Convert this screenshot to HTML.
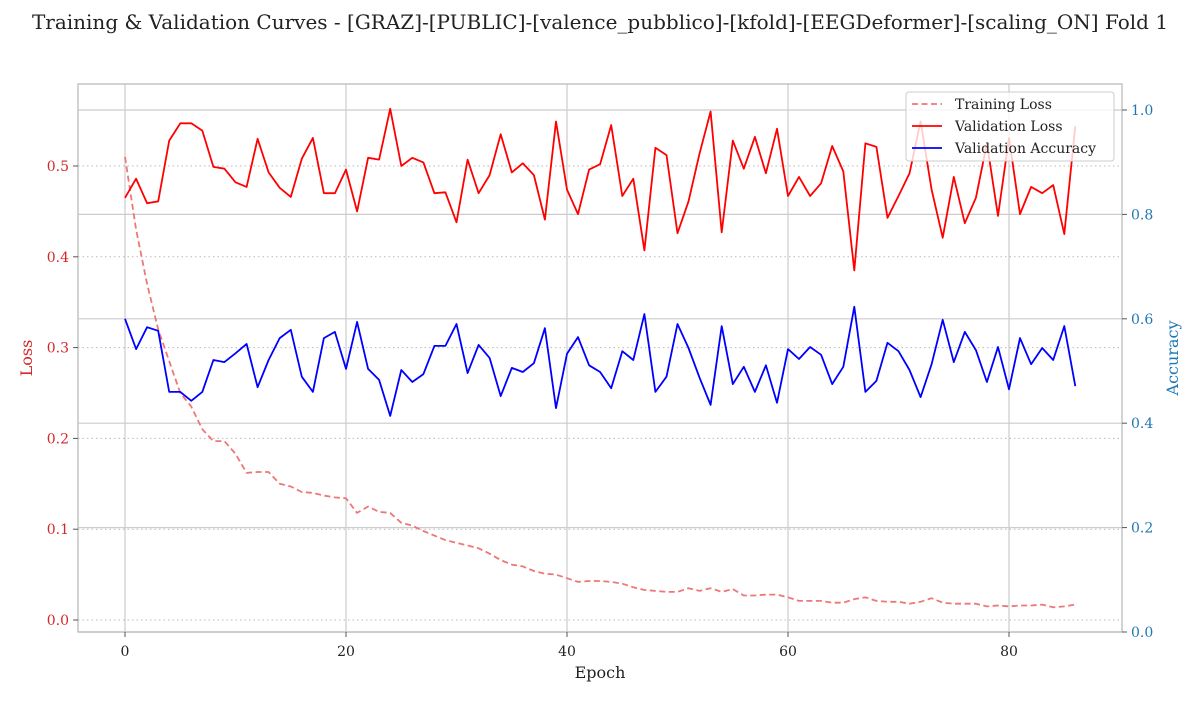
<!DOCTYPE html>
<html><head><meta charset="utf-8"><style>
body{margin:0;background:#fff;}
svg text{font-family:"DejaVu Serif","Liberation Serif",serif;}
</style></head><body>
<svg id="chart" width="1200" height="700"></svg>
<script>
const epochs = Array.from({length:87},(_,i)=>i);
const trainLoss=[0.51,0.43,0.37,0.32,0.285,0.25,0.235,0.21,0.197,0.197,0.183,0.162,0.163,0.163,0.15,0.147,0.141,0.14,0.137,0.135,0.134,0.118,0.125,0.119,0.118,0.107,0.104,0.098,0.093,0.088,0.085,0.082,0.079,0.073,0.066,0.061,0.059,0.054,0.051,0.05,0.046,0.042,0.043,0.043,0.042,0.04,0.036,0.033,0.032,0.031,0.031,0.035,0.032,0.035,0.031,0.034,0.027,0.027,0.028,0.028,0.025,0.021,0.021,0.021,0.019,0.019,0.023,0.025,0.021,0.02,0.02,0.018,0.02,0.024,0.019,0.018,0.018,0.018,0.015,0.016,0.015,0.016,0.016,0.017,0.014,0.015,0.017];
const valLoss=[0.465,0.486,0.459,0.461,0.528,0.547,0.547,0.539,0.499,0.497,0.482,0.477,0.530,0.493,0.476,0.466,0.508,0.531,0.470,0.470,0.496,0.450,0.509,0.507,0.563,0.500,0.509,0.504,0.470,0.471,0.438,0.507,0.470,0.490,0.535,0.493,0.503,0.490,0.441,0.549,0.474,0.447,0.496,0.502,0.545,0.467,0.486,0.407,0.520,0.512,0.426,0.461,0.514,0.560,0.427,0.528,0.497,0.532,0.492,0.541,0.467,0.488,0.467,0.481,0.522,0.494,0.385,0.525,0.521,0.443,0.467,0.492,0.549,0.474,0.421,0.488,0.437,0.465,0.525,0.445,0.531,0.447,0.477,0.470,0.479,0.425,0.544];
const valAcc=[0.600,0.542,0.584,0.577,0.460,0.460,0.443,0.460,0.521,0.517,0.534,0.552,0.469,0.521,0.563,0.579,0.489,0.460,0.563,0.575,0.504,0.594,0.504,0.483,0.414,0.502,0.479,0.494,0.548,0.548,0.590,0.496,0.550,0.525,0.452,0.506,0.498,0.515,0.582,0.429,0.533,0.565,0.511,0.498,0.467,0.538,0.521,0.609,0.460,0.489,0.590,0.544,0.487,0.435,0.586,0.475,0.508,0.460,0.511,0.439,0.542,0.523,0.546,0.531,0.475,0.508,0.623,0.460,0.481,0.554,0.538,0.502,0.450,0.513,0.598,0.517,0.575,0.540,0.479,0.546,0.465,0.563,0.513,0.544,0.521,0.586,0.471];
const xTicks=[0,20,40,60,80];
const lossTicks=[0.0,0.1,0.2,0.3,0.4,0.5];
const accTicks=[0.0,0.2,0.4,0.6,0.8,1.0];

const L=78,R=1122,T=84,B=632;
const x=v=>125+(v-0)*(1009-125)/80;
const yL=v=>620-v*908;
const yR=v=>632-v*522;
const svg=document.getElementById('chart');
const NS='http://www.w3.org/2000/svg';
function mk(tag,attrs,parent){const e=document.createElementNS(NS,tag);for(const k in attrs)e.setAttribute(k,attrs[k]);(parent||svg).appendChild(e);return e;}

let t=mk('text',{x:600,y:29,'text-anchor':'middle','font-size':20,fill:'#222'});t.textContent='Training & Validation Curves - [GRAZ]-[PUBLIC]-[valence_pubblico]-[kfold]-[EEGDeformer]-[scaling_ON] Fold 1';



const grid=mk('g',{});


xTicks.forEach(v=>mk('line',{x1:x(v),x2:x(v),y1:T,y2:B,stroke:'#cccccc','stroke-width':1.2},grid));
lossTicks.forEach(v=>mk('line',{x1:L,x2:R,y1:yL(v),y2:yL(v),stroke:'#bbbbbb','stroke-width':1,'stroke-dasharray':'1.5,3'},grid));
accTicks.forEach(v=>mk('line',{x1:L,x2:R,y1:yR(v),y2:yR(v),stroke:'#cccccc','stroke-width':1.2},grid));

const frame=mk('rect',{x:L,y:T,width:R-L,height:B-T,fill:'none',stroke:'#bbbbbb','stroke-width':1.3});



const ax=mk('g',{'font-size':14});


xTicks.forEach(v=>{mk('line',{x1:x(v),x2:x(v),y1:B,y2:B+5,stroke:'#555'},ax);const e=mk('text',{x:x(v),y:B+24,'text-anchor':'middle',fill:'#222'},ax);e.textContent=v;});
lossTicks.forEach(v=>{mk('line',{x1:L-5,x2:L,y1:yL(v),y2:yL(v),stroke:'#555'},ax);const e=mk('text',{x:L-9,y:yL(v)+5,'text-anchor':'end',fill:'#d62728'},ax);e.textContent=v.toFixed(1);});
accTicks.forEach(v=>{mk('line',{x1:R,x2:R+5,y1:yR(v),y2:yR(v),stroke:'#555'},ax);const e=mk('text',{x:R+9,y:yR(v)+5,'text-anchor':'start',fill:'#1f77b4'},ax);e.textContent=v.toFixed(1);});
let xl=mk('text',{x:600,y:678,'text-anchor':'middle','font-size':16,fill:'#222'});xl.textContent='Epoch';


let yl=mk('text',{x:32,y:358,'text-anchor':'middle','font-size':16,fill:'#d62728',transform:'rotate(-90 32 358)'});yl.textContent='Loss';


let yr=mk('text',{x:1178,y:358,'text-anchor':'middle','font-size':16,fill:'#1f77b4',transform:'rotate(-90 1178 358)'});yr.textContent='Accuracy';



function line(data,yf,attrs,name){const p=mk('path',Object.assign({d:data.map((v,i)=>(i?'L':'M')+x(epochs[i]).toFixed(1)+','+yf(v).toFixed(1)).join(''),fill:'none','stroke-width':1.8,'stroke-linejoin':'round'},attrs));

}
line(trainLoss,yL,{stroke:'#ee7777','stroke-dasharray':'6,3.5'},'training-loss-line');
line(valLoss,yL,{stroke:'#ff0000'},'validation-loss-line');
line(valAcc,yR,{stroke:'#0000ff'},'validation-accuracy-line');

const lg=mk('g',{'font-size':14});


mk('rect',{x:906,y:92,width:208,height:69,rx:3,fill:'#fff','fill-opacity':0.8,stroke:'#cccccc'},lg);
[['Training Loss','#ee7777','6,3.5'],['Validation Loss','#ff0000',''],['Validation Accuracy','#0000ff','']].forEach((d,i)=>{
 const yy=104+i*22;
 const g=mk('g',{},lg);
 
 
 mk('line',{x1:912,x2:942,y1:yy,y2:yy,stroke:d[1],'stroke-width':1.8,'stroke-dasharray':d[2]},g);
 const e=mk('text',{x:955,y:yy+5,fill:'#222'},g);e.textContent=d[0];
});
</script>
</body></html>
